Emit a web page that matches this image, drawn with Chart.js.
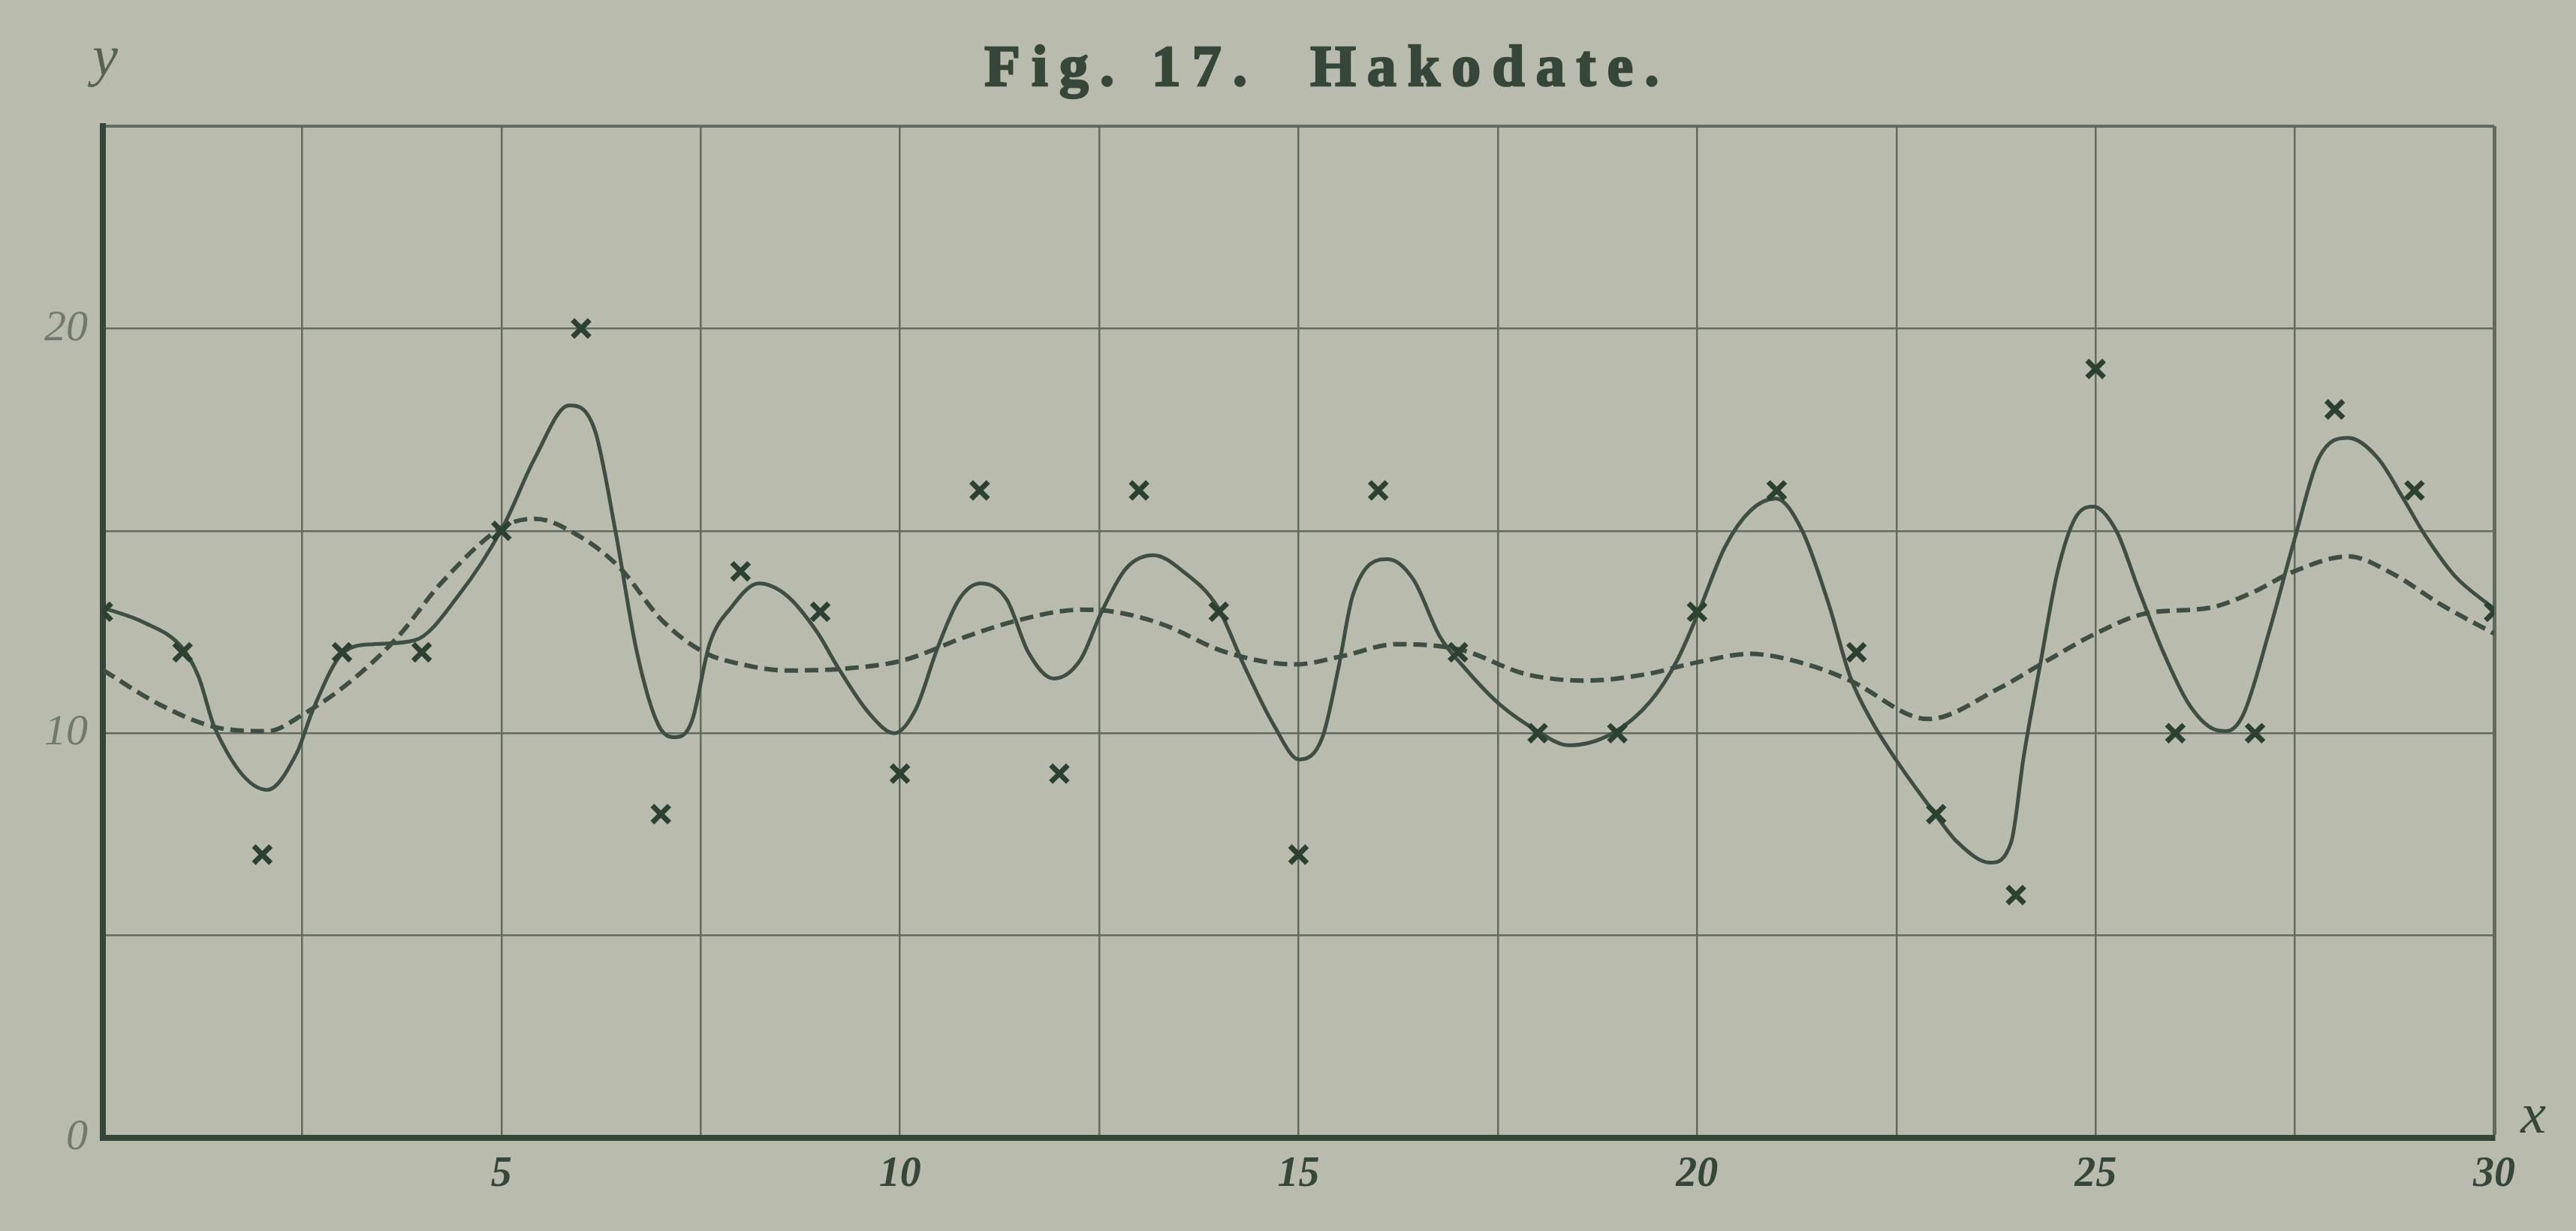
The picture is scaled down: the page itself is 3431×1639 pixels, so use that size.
<!DOCTYPE html>
<html>
<head>
<meta charset="utf-8">
<title>Fig. 17. Hakodate.</title>
<script src="https://cdn.jsdelivr.net/npm/chart.js@4.4.1/dist/chart.umd.min.js"></script>
<style>
    html, body { margin: 0; padding: 0; background: #b9bcad; }
    #wrap { width: 3431px; height: 1639px; position: relative; }
</style>
</head>
<body>
<div id="wrap"><canvas id="hakodate"></canvas></div>
<script>
const titleText = "Fig. 17.  Hakodate.";

// observed values (crosses), one per day
const obsX = [0, 1, 2, 3, 4, 5, 6, 7, 8, 9, 10, 11, 12, 13, 14, 15, 16, 17, 18, 19, 20, 21, 22, 23, 24, 25, 26, 27, 28, 29, 30];
const obsY = [13, 12, 7, 12, 12, 15, 20, 8, 14, 13, 9, 16, 9, 16, 13, 7, 16, 12, 10, 10, 13, 16, 12, 8, 6, 19, 10, 10, 18, 16, 13];

// solid curve
const solidX = [0, 0.5, 1.0, 1.2, 1.41, 2.06, 2.43, 2.64, 3.02, 3.39, 3.92, 4.46, 5.02, 5.42, 5.85, 6.17, 6.43, 6.70, 6.97, 7.18, 7.39, 7.61,
    7.88, 8.23, 8.58, 8.96, 9.23, 9.61, 9.93, 10.2, 10.47, 10.74, 11.01, 11.34, 11.61, 11.93, 12.26, 12.53, 12.85, 13.18, 13.55, 13.99,
    14.31, 14.69, 15.01, 15.3, 15.5, 15.68, 16.12, 16.44, 16.77, 17.09, 17.53, 17.96, 18.39, 18.94, 19.42, 19.75, 20.02, 20.35, 20.67, 20.99,
    21.32, 21.65, 21.92, 22.19, 22.51, 22.95, 23.27, 23.68, 23.94, 24.1, 24.31, 24.52, 24.74, 24.97, 25.26, 25.53, 25.85, 26.16, 26.48, 26.64,
    26.85, 27.17, 27.49, 27.8, 28.17, 28.54, 28.86, 29.13, 29.5, 30];
const solidY = [13.1, 12.75, 12.1, 11.4, 10.1, 8.6, 9.5, 10.6, 12.0, 12.2, 12.3, 13.4, 15.1, 16.8, 18.1, 17.5, 15.0, 12.0, 10.2, 9.9, 10.3, 12.2,
    13.1, 13.7, 13.4, 12.5, 11.6, 10.5, 10.0, 10.6, 12.1, 13.3, 13.7, 13.3, 12.0, 11.35, 11.8, 13.0, 14.1, 14.4, 14.0, 13.1,
    11.7, 10.2, 9.35, 9.9, 11.6, 13.4, 14.3, 13.8, 12.4, 11.6, 10.7, 10.1, 9.7, 10.0, 10.8, 11.8, 13.0, 14.6, 15.5, 15.8,
    15.0, 13.2, 11.4, 10.3, 9.3, 8.1, 7.3, 6.8, 7.3, 9.45, 11.75, 13.97, 15.3, 15.6, 15.0, 13.6, 12.0, 10.75, 10.1, 10.05,
    10.45, 12.46, 14.75, 16.8, 17.3, 16.8, 15.8, 14.9, 13.9, 13.07];

// dashed curve
const dashX = [0, 0.72, 1.41, 2.06, 2.54, 3.12, 3.71, 4.24, 5.02, 5.42, 5.95, 6.48, 7.01, 7.54, 8.02, 8.58, 9.34, 10.04, 10.85, 11.5,
    12.26, 12.69, 13.28, 14.09, 14.96, 15.54, 16.23, 17.04, 17.85, 18.61, 19.37, 20.02, 20.67, 21.38, 21.92, 22.9, 23.78, 24.31, 25, 25.63,
    26.43, 26.96, 27.49, 28.17, 28.7, 29.34, 30];
const dashY = [11.56, 10.7, 10.15, 10.05, 10.5, 11.3, 12.4, 13.7, 15.1, 15.3, 14.9, 14.1, 12.8, 12.0, 11.7, 11.55, 11.6, 11.8, 12.4, 12.8,
    13.05, 13.0, 12.7, 12.0, 11.7, 11.9, 12.2, 12.06, 11.46, 11.3, 11.46, 11.76, 11.96, 11.7, 11.3, 10.35, 11.1, 11.7, 12.46, 12.96,
    13.1, 13.47, 14.0, 14.37, 13.97, 13.17, 12.46];

const yLabels = [0, 10, 20];
const xLabels = [5, 10, 15, 20, 25, 30];

const ink = "#37463a";
const gridInk = "#626a5f";

const toPoints = (xs, ys) => xs.map((x, i) => ({ x: x, y: ys[i] }));

// title and axis letters drawn on top of the chart
const paperText = {
    id: "paperText",
    afterDraw(chart) {
        const c = chart.ctx;
        c.save();
        c.fillStyle = ink;
        c.strokeStyle = ink;
        c.textAlign = "center";
        c.textBaseline = "alphabetic";
        c.font = "bold 78px 'Liberation Serif'";
        c.letterSpacing = "15px";
        c.lineWidth = 2.5;
        c.fillText(titleText, 1768, 114);
        c.strokeText(titleText, 1768, 114);
        c.letterSpacing = "0px";
        c.fillStyle = "#56614f";
        c.font = "italic 76px 'Liberation Serif'";
        c.fillText("y", 140, 100);
        c.fillStyle = ink;
        c.fillText("x", 3374, 1508);
        c.restore();
    }
};

const ctx = document.getElementById("hakodate").getContext("2d");
new Chart(ctx, {
    type: "line",
    data: {
        datasets: [
            {
                label: "observed",
                data: toPoints(obsX, obsY),
                showLine: false,
                pointStyle: "crossRot",
                pointRadius: 16,
                pointBorderWidth: 7,
                pointBorderColor: "#2c4131",
                order: 0
            },
            {
                label: "solid",
                data: toPoints(solidX, solidY),
                borderColor: "#3f4e44",
                borderWidth: 5,
                pointRadius: 0,
                cubicInterpolationMode: "monotone",
                order: 1
            },
            {
                label: "dashed",
                data: toPoints(dashX, dashY),
                borderColor: "#3f4e44",
                borderWidth: 6,
                borderDash: [18, 9],
                pointRadius: 0,
                cubicInterpolationMode: "monotone",
                order: 2
            }
        ]
    },
    options: {
        responsive: true,
        maintainAspectRatio: false,
        animation: false,
        layout: { padding: { top: 168, right: 109, left: 0, bottom: 0 } },
        plugins: {
            legend: { display: false },
            tooltip: { enabled: false },
            title: { display: false }
        },
        scales: {
            x: {
                type: "linear",
                min: 0,
                max: 30,
                afterFit: (s) => { s.height = 124; },
                ticks: {
                    stepSize: 2.5,
                    autoSkip: false,
                    maxRotation: 0,
                    padding: 16,
                    color: ink,
                    font: { family: "'Liberation Serif'", size: 56, style: "italic", weight: "bold" },
                    callback: (v) => xLabels.includes(v) ? String(v) : ""
                },
                grid: {
                    color: gridInk,
                    lineWidth: (c) => c.tick && c.tick.value === 30 ? 5 : 2.5,
                    drawTicks: false
                },
                border: { display: true, width: 8, color: ink }
            },
            y: {
                min: 0,
                max: 25,
                afterFit: (s) => { s.width = 137; },
                ticks: {
                    stepSize: 5,
                    padding: 20,
                    color: "#6f796c",
                    font: { family: "'Liberation Serif'", size: 58, style: "italic" },
                    callback: (v) => yLabels.includes(v) ? String(v) : ""
                },
                grid: {
                    color: gridInk,
                    lineWidth: (c) => c.tick && c.tick.value === 25 ? 4 : 2.5,
                    drawTicks: false
                },
                border: { display: true, width: 8, color: ink }
            }
        }
    },
    plugins: [paperText]
});
</script>
</body>
</html>
